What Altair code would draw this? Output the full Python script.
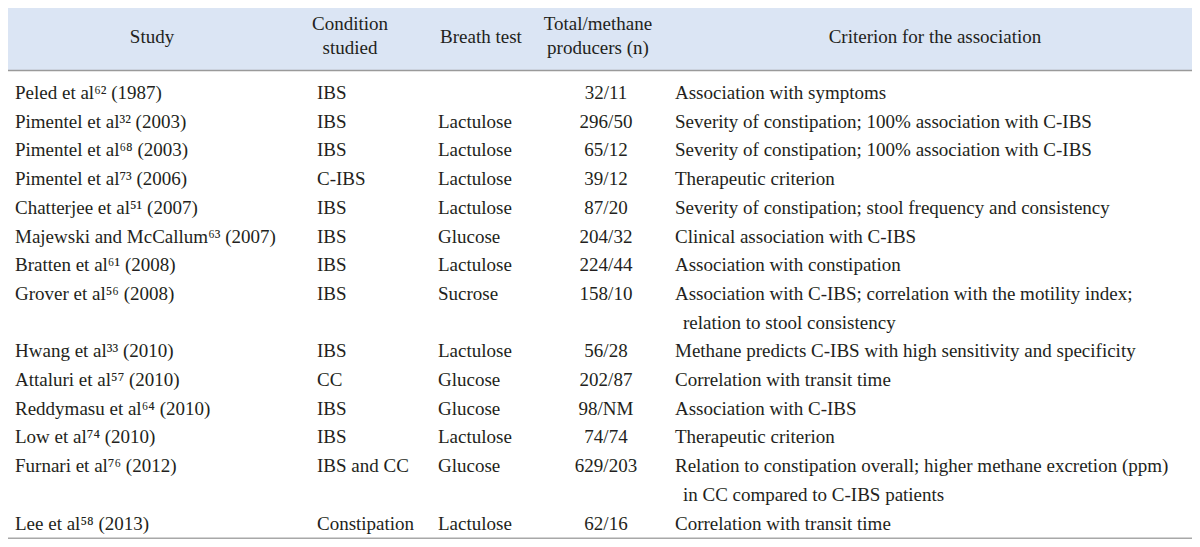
import altair as alt
import pandas as pd

# ---------------- data ----------------
header_study = ["Study"]
header_condition = ["Condition", "studied"]
header_test = ["Breath test"]
header_total = ["Total/methane", "producers (n)"]
header_criterion = ["Criterion for the association"]

studies = [
    "Peled et al⁶² (1987)",
    "Pimentel et al³² (2003)",
    "Pimentel et al⁶⁸ (2003)",
    "Pimentel et al⁷³ (2006)",
    "Chatterjee et al⁵¹ (2007)",
    "Majewski and McCallum⁶³ (2007)",
    "Bratten et al⁶¹ (2008)",
    "Grover et al⁵⁶ (2008)",
    "Hwang et al³³ (2010)",
    "Attaluri et al⁵⁷ (2010)",
    "Reddymasu et al⁶⁴ (2010)",
    "Low et al⁷⁴ (2010)",
    "Furnari et al⁷⁶ (2012)",
    "Lee et al⁵⁸ (2013)",
]
conditions = ["IBS", "IBS", "IBS", "C-IBS", "IBS", "IBS", "IBS", "IBS", "IBS",
              "CC", "IBS", "IBS", "IBS and CC", "Constipation"]
breath_tests = ["", "Lactulose", "Lactulose", "Lactulose", "Lactulose", "Glucose",
                "Lactulose", "Sucrose", "Lactulose", "Glucose", "Glucose",
                "Lactulose", "Glucose", "Lactulose"]
totals = ["32/11", "296/50", "65/12", "39/12", "87/20", "204/32", "224/44",
          "158/10", "56/28", "202/87", "98/NM", "74/74", "629/203", "62/16"]
criteria = [
    ["Association with symptoms"],
    ["Severity of constipation; 100% association with C-IBS"],
    ["Severity of constipation; 100% association with C-IBS"],
    ["Therapeutic criterion"],
    ["Severity of constipation; stool frequency and consistency"],
    ["Clinical association with C-IBS"],
    ["Association with constipation"],
    ["Association with C-IBS; correlation with the motility index;",
     "relation to stool consistency"],
    ["Methane predicts C-IBS with high sensitivity and specificity"],
    ["Correlation with transit time"],
    ["Association with C-IBS"],
    ["Therapeutic criterion"],
    ["Relation to constipation overall; higher methane excretion (ppm)",
     "in CC compared to C-IBS patients"],
    ["Correlation with transit time"],
]

# ---------------- layout (positions / styles) ----------------
W, H = 1184, 531
X0, Y0 = 8, 8                  # page margin offset (coordinates in page pixels)
COL_X = {"study": 15, "cond": 317, "test": 438, "total": 606, "crit": 675}
CONT_INDENT = 8
HEAD_X = [152, 350, 481, 598, 935]
HEAD_Y1, HEAD_Y2, HEAD_YC = 24, 48, 37
ROW0, STEP = 93, 28.7
TOP_LINE, HEAD_LINE, BOTTOM_LINE = 4.5, 70.5, 538.5
FONT = "Liberation Serif"
FS = 19
INK = "#231f20"

# ---------------- build tables ----------------
left_rows, center_rows = [], []

# header
for hx, lines in zip(HEAD_X, [header_study, header_condition, header_test,
                              header_total, header_criterion]):
    if len(lines) == 1:
        center_rows.append({"x": hx, "y": HEAD_YC, "t": lines[0]})
    else:
        center_rows.append({"x": hx, "y": HEAD_Y1, "t": lines[0]})
        center_rows.append({"x": hx, "y": HEAD_Y2, "t": lines[1]})

slot = 0
for s, c, b, n, crit in zip(studies, conditions, breath_tests, totals, criteria):
    y = ROW0 + STEP * slot
    left_rows.append({"x": COL_X["study"], "y": y, "t": s})
    left_rows.append({"x": COL_X["cond"], "y": y, "t": c})
    if b:
        left_rows.append({"x": COL_X["test"], "y": y, "t": b})
    center_rows.append({"x": COL_X["total"], "y": y, "t": n})
    for k, line in enumerate(crit):
        left_rows.append({"x": COL_X["crit"] + (CONT_INDENT if k else 0),
                          "y": ROW0 + STEP * (slot + k), "t": line})
    slot += len(crit)

left_df = pd.DataFrame(left_rows)
center_df = pd.DataFrame(center_rows)

xs = alt.Scale(domain=[X0, X0 + W], range=[0, W])
ys = alt.Scale(domain=[Y0, Y0 + H], range=[0, H])

xenc = alt.X("x:Q", scale=xs, axis=None)
yenc = alt.Y("y:Q", scale=ys, axis=None)

band = alt.Chart(pd.DataFrame({"y": [TOP_LINE], "y2": [HEAD_LINE]})).mark_rect(
    color="#dbe5f4").encode(
    x=alt.value(0), x2=alt.value(W), y=yenc, y2="y2:Q")

lines_df = pd.DataFrame({
    "y": [TOP_LINE, HEAD_LINE, BOTTOM_LINE],
    "c": ["#7f7f7f", "#9a9a9a", "#a8a8a8"],
    "w": [2.5, 1.5, 2.0],
})
rules = alt.Chart(lines_df).mark_rule().encode(
    x=alt.value(0), x2=alt.value(W), y=yenc,
    color=alt.Color("c:N", scale=None),
    strokeWidth=alt.StrokeWidth("w:Q", scale=None),
)

left_text = alt.Chart(left_df).mark_text(
    align="left", baseline="middle", font=FONT, fontSize=FS, color=INK
).encode(x=xenc, y=yenc, text="t:N")

center_text = alt.Chart(center_df).mark_text(
    align="center", baseline="middle", font=FONT, fontSize=FS, color=INK
).encode(x=xenc, y=yenc, text="t:N")

chart = alt.layer(band, rules, left_text, center_text).properties(
    width=W, height=H, padding=0, autosize=alt.AutoSizeParams(type="none"),
    background="white",
).configure_view(stroke=None)

chart.save("out.html", embed_options={"renderer": "svg", "actions": False})
